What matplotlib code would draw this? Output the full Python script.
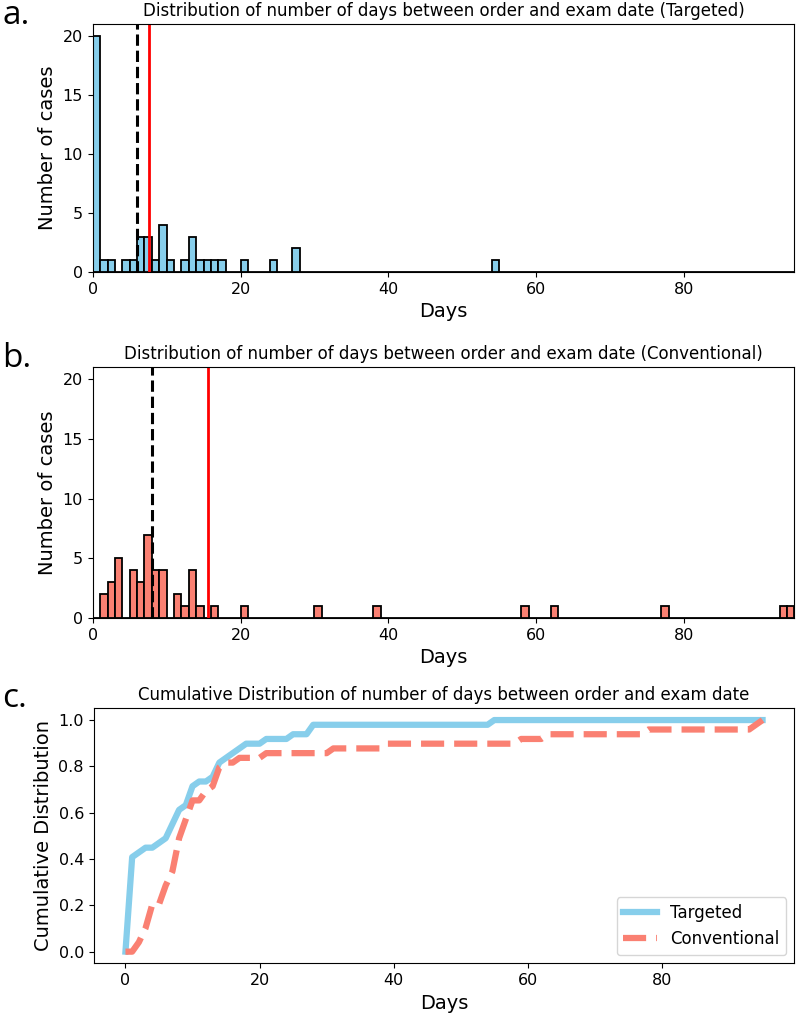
import numpy as np
import matplotlib
matplotlib.use('Agg')
import matplotlib.pyplot as plt

# days between order and exam
targeted_days = [0]*20 + [1, 2, 4, 5, 6, 6, 6, 7, 7, 7, 8, 9, 9, 9, 9, 10,
                          12, 13, 13, 13, 14, 15, 16, 17, 20, 24, 27, 27, 54]
conventional_days = [1, 1, 2, 2, 2, 3, 3, 3, 3, 3, 5, 5, 5, 5, 6, 6, 6,
                     7, 7, 7, 7, 7, 7, 7, 8, 8, 8, 8, 9, 9, 9, 9, 11, 11, 12,
                     13, 13, 13, 13, 14, 16, 20, 30, 38, 58, 62, 77, 93, 94]

bins = np.arange(0, 96)
blue = '#87CEEB'
salmon = '#FA8072'

fig = plt.figure(figsize=(8, 10.15), dpi=100)
ax1 = fig.add_axes([0.116, 0.732, 0.877, 0.244])
ax2 = fig.add_axes([0.116, 0.391, 0.877, 0.247])
ax3 = fig.add_axes([0.117, 0.051, 0.876, 0.251])

tick_fs = 11.5
label_fs = 14
title_fs = 12

for ax, d, col, name in [(ax1, targeted_days, blue, 'Targeted'),
                         (ax2, conventional_days, salmon, 'Conventional')]:
    ax.hist(d, bins=bins, color=col, edgecolor='black', linewidth=1.3)
    ax.axvline(np.median(d), color='black', linestyle='--', linewidth=2.2)
    ax.axvline(np.mean(d), color='red', linewidth=2)
    ax.set_xlim(0, 95)
    ax.set_ylim(0, 21)
    ax.set_xticks([0, 20, 40, 60, 80])
    ax.set_yticks([0, 5, 10, 15, 20])
    ax.tick_params(labelsize=tick_fs)
    ax.set_xlabel('Days', fontsize=label_fs)
    ax.set_ylabel('Number of cases', fontsize=label_fs)
    ax.set_title('Distribution of number of days between order and exam date (%s)' % name,
                 fontsize=title_fs)

# cumulative distributions plotted at bin edges
cnt_t, _ = np.histogram(targeted_days, bins=bins)
cnt_c, _ = np.histogram(conventional_days, bins=bins)
cdf_t = np.concatenate([[0], np.cumsum(cnt_t) / len(targeted_days)])
cdf_c = np.concatenate([[0], np.cumsum(cnt_c) / len(conventional_days)])

ax3.plot(bins, cdf_t, color=blue, linewidth=4.5, label='Targeted')
ax3.plot(bins, cdf_c, color=salmon, linewidth=4.5, linestyle='--', label='Conventional')
ax3.set_xticks([0, 20, 40, 60, 80])
ax3.set_yticks([0, 0.2, 0.4, 0.6, 0.8, 1.0])
ax3.tick_params(labelsize=tick_fs)
ax3.set_xlabel('Days', fontsize=label_fs)
ax3.set_ylabel('Cumulative Distribution', fontsize=label_fs)
ax3.set_title('Cumulative Distribution of number of days between order and exam date',
              fontsize=title_fs)
ax3.legend(loc='lower right', fontsize=12)

# panel letters
for y, s in [(0.985, 'a.'), (0.647, 'b.'), (0.312, 'c.')]:
    fig.text(0.003, y, s, fontsize=24, family='Open Sans', va='center', ha='left')

fig.savefig('out.png', dpi=100)
